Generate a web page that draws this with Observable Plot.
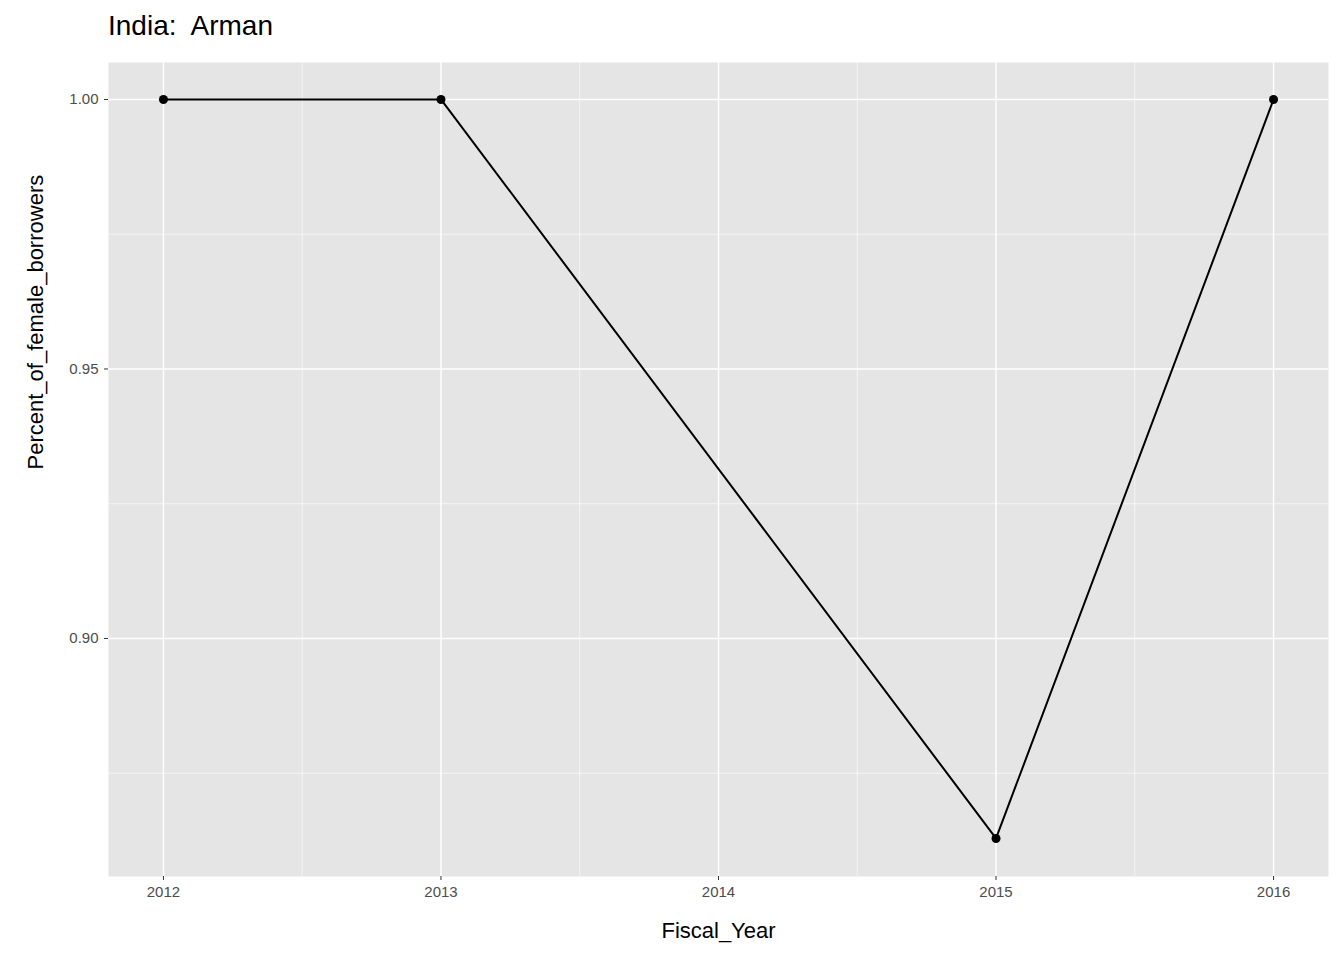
<!DOCTYPE html>
<html>
<head>
<meta charset="utf-8">
<script src="https://cdn.jsdelivr.net/npm/d3@7"></script>
<script src="https://cdn.jsdelivr.net/npm/@observablehq/plot@0.6"></script>
<style>
  body { margin: 0; background: #fff; font-family: "Liberation Sans", Arial, sans-serif; }
  #title { height: 50px; box-sizing: border-box; padding: 10px 0 0 108px; font-size: 28px; line-height: 32px; color: #000; white-space: pre; }
</style>
</head>
<body>
<div id="title">India:  Arman</div>
<div id="chart"></div>
<script>
const years = [2012, 2013, 2014, 2015, 2016];
const pointYears = [2012, 2013, 2015, 2016];
const shares = [1.0, 1.0, 0.8629, 1.0];
const yTicks = [0.90, 0.95, 1.00];
const yMinor = [0.875, 0.925, 0.975];
const xMinor = [2012.5, 2013.5, 2014.5, 2015.5];

const data = pointYears.map((y, i) => ({year: y, share: shares[i]}));

const chart = Plot.plot({
  width: 1344,
  height: 910,
  marginTop: 12,
  marginBottom: 84,
  marginLeft: 108,
  marginRight: 16,
  style: {fontFamily: "Liberation Sans, Arial, sans-serif", fontSize: "15px", color: "#4d4d4d", background: "#fff"},
  x: {domain: [2011.802, 2016.198], label: null},
  y: {domain: [0.85584, 1.00686], label: null},
  marks: [
    Plot.frame({fill: "#e5e5e5", stroke: null}),
    Plot.ruleX(xMinor, {stroke: "#fff", strokeWidth: 0.6}),
    Plot.ruleY(yMinor, {stroke: "#fff", strokeWidth: 0.6}),
    Plot.ruleX(years, {stroke: "#fff", strokeWidth: 1.4}),
    Plot.ruleY(yTicks, {stroke: "#fff", strokeWidth: 1.4}),
    Plot.axisX(years, {tickSize: 4, tickPadding: 6, fontSize: 15, stroke: "#333", fill: "#4d4d4d", tickFormat: "d", label: null}),
    Plot.axisY(yTicks, {tickSize: 4, tickPadding: 6, fontSize: 15, stroke: "#333", fill: "#4d4d4d", tickFormat: ".2f", label: null}),
    Plot.line(data, {x: "year", y: "share", stroke: "#000", strokeWidth: 2}),
    Plot.dot(data, {x: "year", y: "share", fill: "#000", r: 4.5}),
    Plot.text(["Fiscal_Year"], {frameAnchor: "bottom", dy: 61, text: d => d, fontSize: 22, fill: "#000"}),
    Plot.text(["Percent_of_female_borrowers"], {frameAnchor: "left", dx: -73, rotate: -90, text: d => d, fontSize: 22, fill: "#000"})
  ]
});
d3.select("#chart").append(() => chart);
</script>
</body>
</html>
